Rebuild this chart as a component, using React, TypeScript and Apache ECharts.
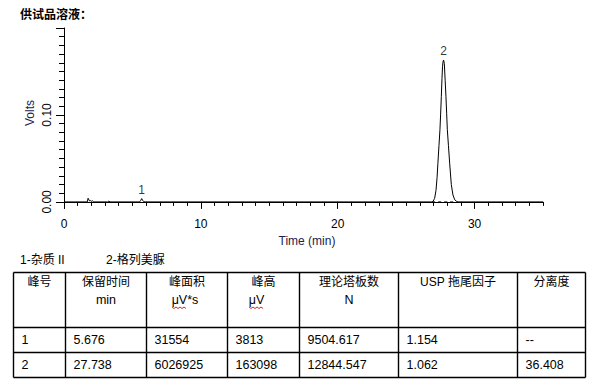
import React, { useEffect, useRef } from 'react';
import * as echarts from 'echarts';

// ---- chromatogram trace (time in min, signal in volts) ----
const traceTimes = [
  0, 1.70, 1.76, 1.80, 1.86, 1.92, 2.00, 2.08, 2.16, 2.25,
  3.20, 3.28, 3.36,
  5.52, 5.60, 5.676, 5.74, 5.82, 5.92,
  26.85, 26.96, 27.08, 27.18, 27.26, 27.32, 27.40, 27.47, 27.52, 27.57, 27.62, 27.66, 27.70, 27.738,
  27.79, 27.85, 27.91, 27.96, 28.01, 28.09, 28.18, 28.30, 28.42, 28.55, 28.71, 28.85,
  35,
];
const traceVolts = [
  0, 0, 0.0042, 0.0040, 0.0012, 0.0015, 0.0008, 0.0012, 0.0003, 0,
  0, 0.0010, 0,
  0, 0.0015, 0.003813, 0.0020, 0.0004, 0,
  0, 0.0004, 0.004, 0.013, 0.028, 0.0445, 0.065, 0.083, 0.101, 0.121, 0.142, 0.156, 0.1618, 0.163098,
  0.159, 0.140, 0.121, 0.102, 0.083, 0.065, 0.0445, 0.020, 0.008, 0.0025, 0.0003, 0,
  0,
];
// integration baseline under peak 2 (dashed)
const baselineTimes = [26.9, 28.65];
const baselineVolts = [0, 0];

// ---- peak results ----
const peakNumbers = ['1', '2'];
const retentionTimes = [5.676, 27.738];
const peakAreas = [31554, 6026925];
const peakHeights = [3813, 163098]; // µV
const plateCounts = ['9504.617', '12844.547'];
const tailingFactors = ['1.154', '1.062'];
const resolutions = ['--', '36.408'];

// ---- texts ----
const titleText = '供试品溶液：';
const peakNames = ['1-杂质 II', '2-格列美脲'];
const headerLine1 = ['峰号', '保留时间', '峰面积', '峰高', '理论塔板数', 'USP 拖尾因子', '分离度'];
const headerLine2 = ['', 'min', 'μV*s', 'μV', 'N', '', ''];
const xMajorTicks = [0, 10, 20, 30];
const yLabelTicks = [0, 0.1];
const yMajorTicks = [0, 0.1, 0.2];

const FONT = "'Liberation Sans', Arial, 'Noto Sans CJK SC', sans-serif";
const CJK = "'Noto Sans CJK SC', 'Liberation Sans', sans-serif";

function buildOption() {
  const trace = traceTimes.map((t, i) => [t, traceVolts[i]]);
  const base = baselineTimes.map((t, i) => [t, baselineVolts[i]]);
  const peaks = retentionTimes.map((t, i) => ({ value: [t, peakHeights[i] / 1e6], name: peakNumbers[i] }));

  const xMinor: number[] = [];
  for (let i = 1; i <= 35; i++) if (i % 10 !== 0) xMinor.push(i);
  const yMinor: number[] = [];
  for (let i = 1; i < 20; i++) if (i % 10 !== 0) yMinor.push(+(i / 100).toFixed(2));

  const colX = [13.5, 65.5, 146.5, 227.5, 299.5, 398.5, 517.5, 585.5];
  const rowY = [272.5, 327.5, 352.5, 377.5];
  const rowCenters = [340, 365];
  const header2Shift = [0, 0, -2, -7, 0, 0, 0];
  const lineStyle = { stroke: '#000', lineWidth: 1.4 };

  const graphic: any[] = [];
  graphic.push({
    type: 'text', x: 20, y: 13,
    style: { text: titleText, fontSize: 12, fontWeight: 'bold', fontFamily: CJK, fill: '#000', verticalAlign: 'middle' },
  });
  graphic.push({
    type: 'text', x: 29.5, y: 113, rotation: Math.PI / 2,
    style: { text: 'Volts', fontSize: 12, fontFamily: FONT, fill: '#1b2150', align: 'center', verticalAlign: 'middle' },
  });
  const nameX = [20, 106];
  peakNames.forEach((n, i) => {
    graphic.push({
      type: 'text', x: nameX[i], y: 259.5,
      style: { text: n, fontSize: 12, fontFamily: FONT, fill: '#000', verticalAlign: 'middle' },
    });
  });
  rowY.forEach((y) => {
    graphic.push({ type: 'line', shape: { x1: colX[0], y1: y, x2: colX[colX.length - 1], y2: y }, style: lineStyle });
  });
  colX.forEach((x) => {
    graphic.push({ type: 'line', shape: { x1: x, y1: rowY[0], x2: x, y2: rowY[rowY.length - 1] }, style: lineStyle });
  });
  headerLine1.forEach((h, c) => {
    const cx = (colX[c] + colX[c + 1]) / 2;
    graphic.push({
      type: 'text', x: cx, y: 282,
      style: { text: h, fontSize: 12, fontFamily: FONT, fill: '#000', align: 'center', verticalAlign: 'middle' },
    });
    const sub = headerLine2[c];
    if (sub) {
      const sx = cx + header2Shift[c];
      graphic.push({
        type: 'text', x: sx, y: 299.5,
        style: { text: sub, fontSize: 12.5, fontFamily: FONT, fill: '#000', align: 'center', verticalAlign: 'middle' },
      });
      if (sub.indexOf('μ') === 0) {
        // spell-check style red wavy underline under "μV"
        const w = 15;
        const start = sx - (sub.length > 2 ? 13 : 7.5);
        const pts: number[][] = [];
        for (let k = 0; k <= w; k += 2) pts.push([start + k, 307 + ((k / 2) % 2 === 0 ? 0 : 1.5)]);
        graphic.push({ type: 'polyline', shape: { points: pts }, style: { stroke: '#d42a2a', lineWidth: 1, fill: 'none' } });
      }
    }
  });
  const rows = peakNumbers.map((p, i) => [
    p,
    retentionTimes[i].toFixed(3),
    String(peakAreas[i]),
    String(peakHeights[i]),
    plateCounts[i],
    tailingFactors[i],
    resolutions[i],
  ]);
  rows.forEach((r, ri) => {
    r.forEach((cell, c) => {
      graphic.push({
        type: 'text', x: colX[c] + 8, y: rowCenters[ri],
        style: { text: cell, fontSize: 12.5, fontFamily: FONT, fill: '#000', verticalAlign: 'middle' },
      });
    });
  });

  const axisLineBlack = { show: true, lineStyle: { color: '#000', width: 1 } };

  return {
    animation: false,
    backgroundColor: '#fff',
    grid: { left: 64, right: 53, top: 28, bottom: 178, containLabel: false },
    xAxis: [
      {
        type: 'value', min: 0, max: 35, position: 'bottom',
        axisLine: axisLineBlack,
        axisTick: { show: true, length: 7, customValues: xMajorTicks, lineStyle: { color: '#000' } },
        axisLabel: { show: true, customValues: xMajorTicks, margin: 10, fontSize: 12, fontFamily: FONT, color: '#000' },
        splitLine: { show: false },
        name: 'Time (min)', nameLocation: 'middle', nameGap: 27,
        nameTextStyle: { fontSize: 12, fontFamily: FONT, color: '#1b2150', padding: [0, 0, 0, 7] },
      },
      {
        type: 'value', min: 0, max: 35, position: 'bottom',
        axisLine: { show: false },
        axisTick: { show: true, length: 4, customValues: xMinor, lineStyle: { color: '#000' } },
        axisLabel: { show: false },
        splitLine: { show: false },
      },
    ],
    yAxis: [
      {
        type: 'value', min: -0.007, max: 0.2, position: 'left',
        axisLine: axisLineBlack,
        axisTick: { show: true, length: 8, customValues: yMajorTicks, lineStyle: { color: '#000' } },
        axisLabel: {
          show: true, customValues: yLabelTicks, rotate: 90, margin: 11, fontSize: 12, fontFamily: FONT, color: '#000',
          formatter: (v: number) => v.toFixed(2),
        },
        splitLine: { show: false },
      },
      {
        type: 'value', min: -0.007, max: 0.2, position: 'left',
        axisLine: { show: false },
        axisTick: { show: true, length: 5, customValues: yMinor, lineStyle: { color: '#000' } },
        axisLabel: { show: false },
        splitLine: { show: false },
      },
    ],
    series: [
      {
        type: 'line', data: trace, xAxisIndex: 0, yAxisIndex: 0, showSymbol: false, symbol: 'none',
        lineStyle: { color: '#000', width: 1 }, silent: true,
      },
      {
        type: 'line', data: base, xAxisIndex: 0, yAxisIndex: 0, showSymbol: false, symbol: 'none',
        lineStyle: { color: '#000', width: 1, type: [3, 3] }, silent: true,
      },
      {
        type: 'scatter', data: peaks, xAxisIndex: 0, yAxisIndex: 0, symbolSize: 0,
        label: { show: true, position: 'top', distance: 3, formatter: (p: any) => p.name, fontSize: 12, fontFamily: FONT, color: '#000' },
        silent: true,
      },
    ],
    graphic,
  };
}

export default function App() {
  const ref = useRef<HTMLDivElement>(null);
  useEffect(() => {
    if (!ref.current) return;
    const chart = echarts.init(ref.current, null, { renderer: 'svg' });
    chart.setOption(buildOption() as any);
    return () => chart.dispose();
  }, []);
  return (
    <div
      ref={ref}
      style={{ position: 'fixed', left: 0, top: 0, width: 596, height: 386, background: '#fff' }}
    />
  );
}
